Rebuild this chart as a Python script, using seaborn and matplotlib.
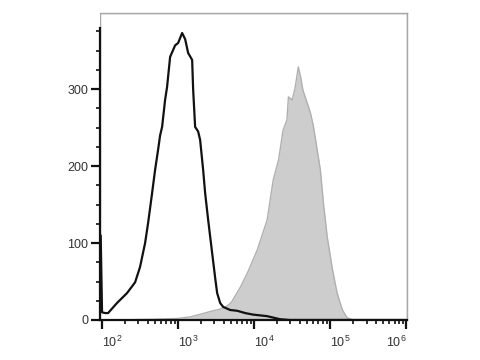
import numpy as np
import pandas as pd
import matplotlib
matplotlib.use("Agg")
import matplotlib.pyplot as plt
import seaborn as sns
from matplotlib.ticker import FixedLocator, LogLocator, NullFormatter
from matplotlib.patches import Rectangle

# control (black outline) histogram: fluorescence intensity vs count
ctrl_x = [96, 100, 110, 120, 157, 213, 272, 316, 368, 403, 455, 498, 545, 580, 616,
          674, 716, 785, 914, 1000, 1129, 1237, 1355, 1529, 1575, 1673, 1833, 1947,
          2133, 2265, 2483, 2801, 3067, 3259, 3572, 3912, 4834, 5970, 7620, 9700,
          14800, 21900, 29400, 1000000]
ctrl_y = [110, 10, 9, 9, 22, 35, 49, 69, 100, 126, 165, 195, 221, 240, 251,
          286, 303, 342, 357, 360, 373, 365, 347, 338, 300, 251, 245, 234,
          195, 165, 130, 87, 55, 35, 22, 17, 13, 12, 9, 7,
          5, 1, 0, 0]

# stained sample (grey filled) histogram
samp_x = [150, 468, 977, 1445, 2884, 3548, 4365, 5012, 6607, 8128, 10965, 14791,
          17783, 20893, 23988, 26915, 28184, 31623, 34674, 38019, 40738, 43652,
          54954, 60256, 74131, 81283, 91201, 107152, 123027, 144544, 165959, 199526]
samp_y = [0, 1, 2, 4, 12, 14, 18, 23, 43, 61, 91, 130,
          182, 208, 247, 260, 290, 286, 303, 329, 316, 299,
          269, 251, 195, 152, 108, 65, 35, 13, 3, 0]

x_ticks = [1e2, 1e3, 1e4, 1e5, 1e6]
x_labels = ["$10^{2}$", "$10^{3}$", "$10^{4}$", "$10^{5}$", "$10^{6}$"]
y_ticks = [0, 100, 200, 300]

sns.set_theme(style="white")
plt.rcParams['font.family'] = ['Liberation Sans', 'DejaVu Sans']
plt.rcParams['mathtext.default'] = 'regular'

fig = plt.figure(figsize=(4.8, 3.6), dpi=100)
ax = fig.add_axes([100/480, 40/360, 307/480, 307/360])

samp = pd.DataFrame({"x": samp_x, "y": samp_y})
ctrl = pd.DataFrame({"x": ctrl_x, "y": ctrl_y})

ax.fill_between(samp["x"], samp["y"], 0, color="#cdcdcd", linewidth=0, zorder=1)
sns.lineplot(data=samp, x="x", y="y", ax=ax, color="#b0b0b0", linewidth=1.0,
             sort=False, estimator=None, zorder=2)
sns.lineplot(data=ctrl, x="x", y="y", ax=ax, color="#111111", linewidth=1.6,
             sort=False, estimator=None, zorder=3)

ax.set_xscale("log")
ax.set_xlim(94, 1.02e6)
ax.set_ylim(0, 399)
ax.set_xlabel("")
ax.set_ylabel("")

# grey frame
for s in ["top", "right"]:
    ax.spines[s].set_visible(True)
    ax.spines[s].set_color("#a8a8a8")
    ax.spines[s].set_linewidth(1.0)
ax.spines["left"].set_color("#111111")
ax.spines["left"].set_linewidth(1.6)
ax.spines["left"].set_bounds(0, 380)
ax.spines["bottom"].set_color("#111111")
ax.spines["bottom"].set_linewidth(1.6)
ax.add_patch(Rectangle((0, 0), 1, 1, transform=ax.transAxes, fill=False,
                       edgecolor="#a8a8a8", linewidth=1.0, zorder=0))

ax.xaxis.set_major_locator(FixedLocator(x_ticks))
ax.set_xticklabels(x_labels)
ax.xaxis.set_minor_locator(LogLocator(base=10, subs=np.arange(2, 10)))
ax.xaxis.set_minor_formatter(NullFormatter())
ax.set_yticks(y_ticks)
ax.yaxis.set_minor_locator(FixedLocator(np.arange(25, 400, 25)))

ax.tick_params(axis="both", which="major", direction="out", length=6.5, width=1.6,
               color="#111111", labelsize=9, labelcolor="#333333")
ax.tick_params(axis="both", which="minor", direction="out", length=3, width=1.2,
               color="#111111")
ax.tick_params(axis="x", which="major", pad=4, bottom=True)
ax.tick_params(axis="x", which="minor", bottom=True)
ax.tick_params(axis="y", which="both", left=True)
ax.tick_params(axis="y", which="major", pad=2)

for i, lab in enumerate(ax.get_xticklabels()):
    if i == len(x_ticks) - 1:
        lab.set_ha("right")
    else:
        lab.set_ha("left")

fig.savefig("out.png", dpi=100)
